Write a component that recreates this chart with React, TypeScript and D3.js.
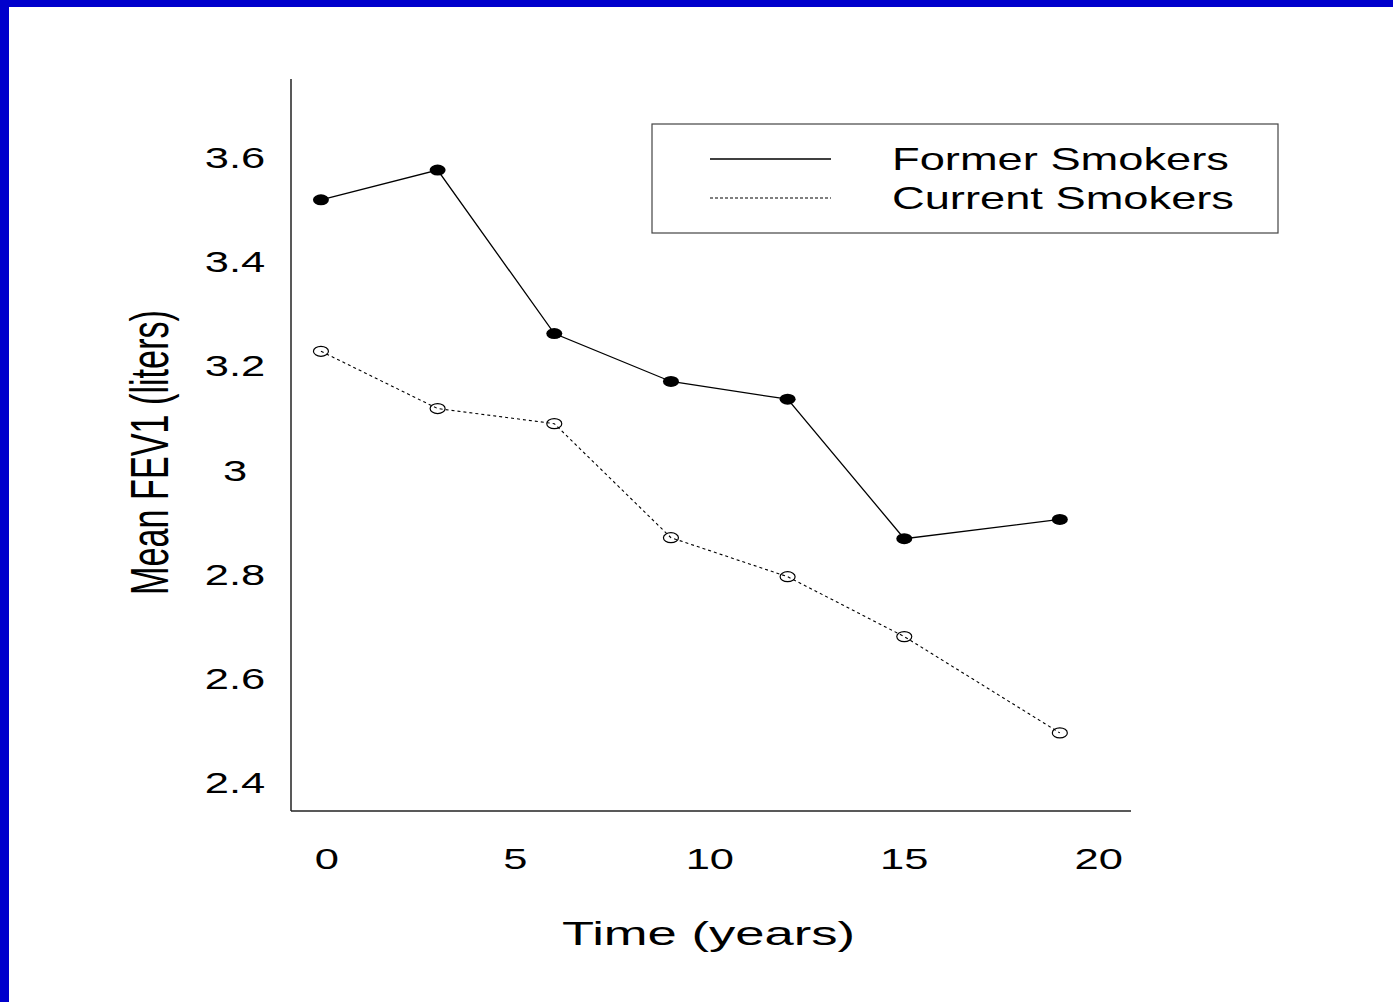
import React from "react";
import * as d3 from "d3";

// years since baseline and mean FEV1 per group
const years = [0, 3, 6, 9, 12, 15, 19];
const formerSmokers = [3.52, 3.577, 3.263, 3.171, 3.137, 2.869, 2.906];
const currentSmokers = [3.229, 3.119, 3.09, 2.871, 2.796, 2.681, 2.496];

const xTicks = [0, 5, 10, 15, 20];
const yTicks = [2.4, 2.6, 2.8, 3, 3.2, 3.4, 3.6];

const legendItems = [
  { label: "Former Smokers", dash: "none" },
  { label: "Current Smokers", dash: "3,2" },
];

const W = 1393;
const H = 1002;
const font = "'Liberation Sans', Arial, Helvetica, sans-serif";

const App = () => {
  const x = d3.scaleLinear().domain([-0.77, 20.83]).range([291, 1131]);
  const y = d3.scaleLinear().domain([2.346, 3.752]).range([811, 79]);

  const line = d3
    .line<number>()
    .x((_, i) => x(years[i]))
    .y((d) => y(d));

  const [x0, x1] = x.range();
  const [yb, yt] = y.range();

  return (
    <div style={{ position: "absolute", left: 0, top: 0 }}>
      <svg width={W} height={H} style={{ display: "block", background: "#fff" }}>
        {/* blue frame */}
        <rect x={0} y={0} width={W} height={7} fill="#0000cc" />
        <rect x={0} y={0} width={9} height={H} fill="#0000cc" />

        {/* axes, no tick marks */}
        <line x1={x0} y1={yt} x2={x0} y2={yb} stroke="#222" strokeWidth={1.5} />
        <line x1={x0} y1={yb} x2={x1} y2={yb} stroke="#222" strokeWidth={1.5} />

        {yTicks.map((t) => (
          <text
            key={t}
            transform={`translate(235,${y(t) + 10}) scale(1.5,1)`}
            textAnchor="middle"
            fontFamily={font}
            fontSize={29}
            fill="#000"
          >
            {String(t)}
          </text>
        ))}
        {xTicks.map((t) => (
          <text
            key={t}
            transform={`translate(${x(t) + (t === 0 ? 6 : 0)},869) scale(1.5,1)`}
            textAnchor="middle"
            fontFamily={font}
            fontSize={29}
            fill="#000"
          >
            {String(t)}
          </text>
        ))}

        {/* axis titles */}
        <text
          x={562}
          y={945}
          fontFamily={font}
          fontSize={34}
          textLength={293}
          lengthAdjust="spacingAndGlyphs"
        >
          Time (years)
        </text>
        <text
          transform="translate(168,595) rotate(-90)"
          fontFamily={font}
          fontSize={53}
          textLength={285}
          lengthAdjust="spacingAndGlyphs"
        >
          Mean FEV1 (liters)
        </text>

        {/* series */}
        <path d={line(formerSmokers) ?? ""} fill="none" stroke="#000" strokeWidth={1.3} />
        <path
          d={line(currentSmokers) ?? ""}
          fill="none"
          stroke="#000"
          strokeWidth={1.1}
          strokeDasharray="3,3"
        />
        {formerSmokers.map((v, i) => (
          <ellipse key={"f" + i} cx={x(years[i])} cy={y(v)} rx={8} ry={5.5} fill="#000" />
        ))}
        {currentSmokers.map((v, i) => (
          <ellipse
            key={"c" + i}
            cx={x(years[i])}
            cy={y(v)}
            rx={7.5}
            ry={5}
            fill="none"
            stroke="#000"
            strokeWidth={1.2}
          />
        ))}

        {/* legend */}
        <rect x={652} y={124} width={626} height={109} fill="#fff" stroke="#444" strokeWidth={1.2} />
        {legendItems.map((d, i) => (
          <g key={d.label}>
            <line
              x1={710}
              x2={831}
              y1={159 + i * 39}
              y2={159 + i * 39}
              stroke="#000"
              strokeWidth={d.dash === "none" ? 1.4 : 1.2}
              strokeDasharray={d.dash}
            />
            <text
              x={892}
              y={170 + i * 39}
              fontFamily={font}
              fontSize={32}
              textLength={i === 0 ? 337 : 342}
              lengthAdjust="spacingAndGlyphs"
            >
              {d.label}
            </text>
          </g>
        ))}
      </svg>
    </div>
  );
};

export default App;
